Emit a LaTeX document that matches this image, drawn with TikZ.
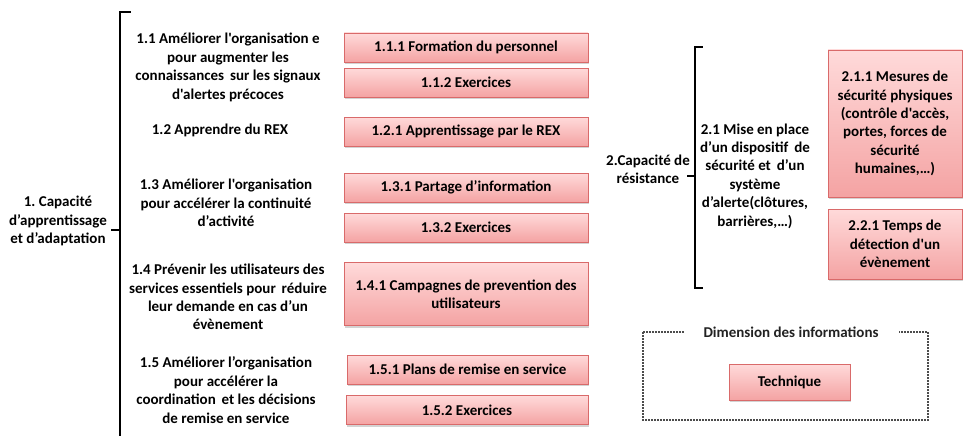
\documentclass[tikz,border=0pt]{standalone}
\usepackage{fontspec}
\setmainfont{Carlito}[Ligatures=TeXOff]
\usetikzlibrary{shadows}
\definecolor{boxline}{HTML}{D96A6A}
\definecolor{boxtop}{HTML}{FFDADA}
\definecolor{boxbot}{HTML}{F4A3A3}
\definecolor{titlegray}{HTML}{222222}
\tikzset{
  lbl/.style={align=center, font=\fontsize{15}{18.4}\selectfont\bfseries},
  pinkbox/.style={draw=boxline, line width=0.8pt, top color=boxtop, bottom color=boxbot,
    drop shadow={shadow xshift=1pt, shadow yshift=-2pt, opacity=0.35},
    align=center, inner sep=1pt, font=\fontsize{15}{18.4}\selectfont\bfseries},
  brace/.style={line width=1.8pt, line cap=rect},
}
\frenchspacing
\begin{document}
\begin{tikzpicture}[x=1pt, y=-1pt]
  \useasboundingbox (0,0) rectangle (963,436);
  \draw[brace] (130,12) -- (120,12) -- (120,436);
  \node[lbl] (c1) at (58,221) {1. Capacité\\d’apprentissage\\et d’adaptation};
  \coordinate (t1) at (120,230);
  \draw[brace] (112,230) -- (t1);
  \node[lbl] (o11) at (228,67.5) {1.1 Améliorer l'organisation e\\pour augmenter les\\connaissances\, sur les signaux\\d'alertes précoces};
  \node[lbl] (o12) at (220,130) {1.2 Apprendre du REX};
  \node[lbl] (o13) at (226,203) {1.3 Améliorer l'organisation\\pour accélérer la continuité\\d’activité};
  \node[lbl] (o14) at (228,297) {1.4 Prévenir les utilisateurs des\\services essentiels pour\, réduire\\leur demande en cas d’un\\évènement};
  \node[lbl] (o15) at (226,390) {1.5 Améliorer l’organisation\\pour accélérer la\\coordination\, et les décisions\\de remise en service};
  \node[pinkbox, minimum width=244, minimum height=29] (a111) at (466,47.5) {1.1.1 Formation du personnel};
  \node[pinkbox, minimum width=244, minimum height=29] (a112) at (466,82.5) {1.1.2 Exercices};
  \node[pinkbox, minimum width=244, minimum height=29] (a121) at (466,131.5) {1.2.1 Apprentissage par le REX};
  \node[pinkbox, minimum width=244, minimum height=29] (a131) at (466,187.5) {1.3.1 Partage d’information};
  \node[pinkbox, minimum width=244, minimum height=29] (a132) at (466,227.5) {1.3.2 Exercices};
  \node[pinkbox, minimum width=244, minimum height=63] (a141) at (466,294) {1.4.1 Campagnes de prevention des\\utilisateurs};
  \node[pinkbox, minimum width=241, minimum height=29] (a151) at (467.5,369.5) {1.5.1 Plans de remise en service};
  \node[pinkbox, minimum width=242, minimum height=29] (a152) at (467,410) {1.5.2 Exercices};
  \node[lbl] (c2) at (648,169) {2.Capacité de\\résistance};
  \coordinate (t2) at (695,176);
  \draw[brace] (688,176) -- (t2);
  \draw[brace] (702,47) -- (695,47) -- (695,288) -- (702,288);
  \node[lbl] (o21) at (755,176) {2.1 Mise en place\\d’un dispositif\, de\\sécurité et\, d’un\\système\\d’alerte(clôtures,\\barrières,…)};
  \node[pinkbox, minimum width=134, minimum height=147] (a211) at (895,123.5) {2.1.1 Mesures de\\sécurité physiques\\(contrôle d'accès,\\portes, forces de\\sécurité\\humaines,…)};
  \node[pinkbox, minimum width=134, minimum height=70] (a221) at (895,244) {2.2.1 Temps de\\détection d'un\\évènement};
  \draw[line width=1.2pt, dash pattern=on 2pt off 1pt, gray!60!black] (643,332) rectangle (928,420);
  \node[lbl, fill=white, text=titlegray, inner xsep=20pt, minimum height=20] (dim) at (791,332) {Dimension des informations};
  \node[pinkbox, minimum width=121, minimum height=36] (tech) at (789.5,382) {Technique};
\end{tikzpicture}
\end{document}
